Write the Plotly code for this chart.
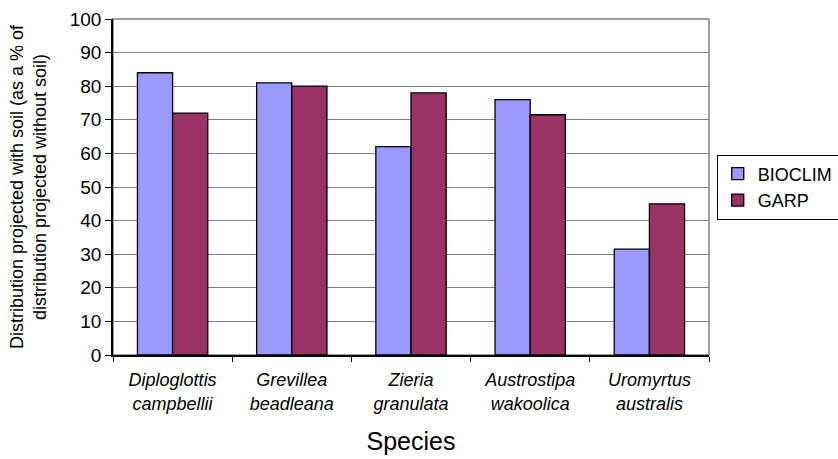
import plotly.graph_objects as go

species = [
    "<i>Diploglottis</i><br><i>campbellii</i>",
    "<i>Grevillea</i><br><i>beadleana</i>",
    "<i>Zieria</i><br><i>granulata</i>",
    "<i>Austrostipa</i><br><i>wakoolica</i>",
    "<i>Uromyrtus</i><br><i>australis</i>",
]
bioclim = [84, 81, 62, 76, 31.5]
garp = [72, 80, 78, 71.5, 45]

fig = go.Figure()
fig.add_trace(go.Bar(name="BIOCLIM", x=species, y=bioclim,
                     marker=dict(color="#9999FF", line=dict(color="black", width=1.3))))
fig.add_trace(go.Bar(name="GARP", x=species, y=garp,
                     marker=dict(color="#993366", line=dict(color="black", width=1.3))))

# plot-area frame (grey top/right edges)
fig.add_shape(type="rect", xref="paper", yref="paper", x0=0, x1=1, y0=0, y1=1,
              line=dict(color="#808080", width=1.5), layer="below")

fig.update_layout(
    width=838, height=459,
    margin=dict(l=113, r=129, t=19, b=104, autoexpand=False),
    paper_bgcolor="white", plot_bgcolor="white",
    font=dict(family="Liberation Sans, Arial, sans-serif", color="black"),
    barmode="group", bargap=0.41, bargroupgap=0,
    showlegend=True,
    legend=dict(x=1.013, xanchor="left", y=0.5, yanchor="middle",
                bordercolor="black", borderwidth=1, font=dict(size=18),
                tracegroupgap=8, itemwidth=30),
    xaxis=dict(
        title=dict(text="Species", font=dict(size=25), standoff=20),
        tickfont=dict(size=18),
        showline=True, linecolor="black", linewidth=1.5,
        ticks="outside", tickson="boundaries", ticklen=5, tickcolor="black",
        ticklabelstandoff=8,
        showgrid=False,
    ),
    yaxis=dict(
        title=dict(text="Distribution projected with soil (as a % of<br>distribution projected without soil)",
                   font=dict(size=18), standoff=18),
        range=[0, 100], dtick=10,
        tickfont=dict(size=19),
        showline=True, linecolor="black", linewidth=1.5,
        ticks="outside", ticklen=6, tickcolor="black",
        showgrid=True, gridcolor="#808080", gridwidth=1.3,
        zeroline=False,
    ),
)

fig.write_html("out.html")
